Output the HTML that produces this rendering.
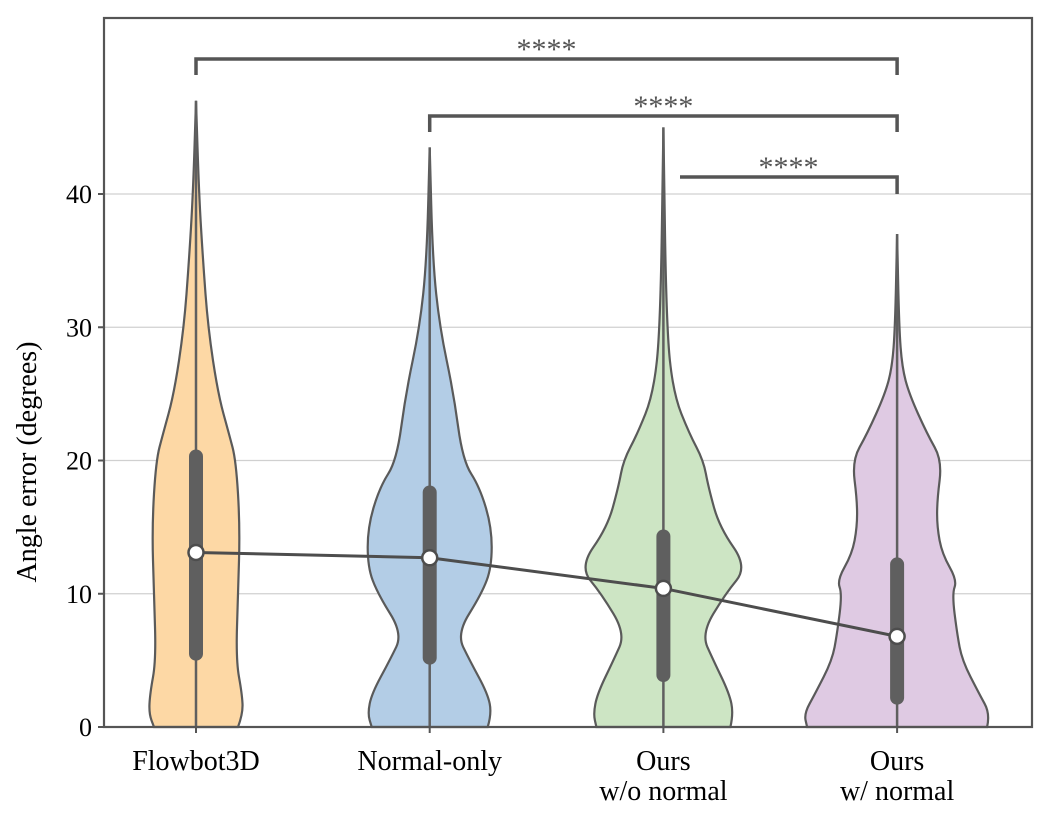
<!DOCTYPE html>
<html><head><meta charset="utf-8"><style>
html,body{margin:0;padding:0;background:#fff;}
svg{display:block;font-family:"Liberation Serif",serif;}
</style></head><body>
<svg id="chart" width="1050" height="832"></svg>
<script>
const categories=["Flowbot3D","Normal-only","Ours\nw/o normal","Ours\nw/ normal"];
const colors=["#fdd8a5","#b3cde6","#cde5c4","#dfcae3"];
const yTicks=[0,10,20,30,40];
// density profiles: [angle value, relative half width]
const profFlow=[[0,42],[1,47],[2.5,46],[5,40],[10,42],[15,44],[20,40],[22,33],[25,22],[30,12],[35,7],[40,3],[47,0]];
const profNorm=[[0,58],[1,62],[2.5,58],[5,40],[7,27],[10,52],[12,62],[15,62],[18,50],[20,33],[25,24],[30,10],[35,3],[43.5,0]];
const profWo=[[0,67],[1,70],[2.5,66],[5,50],[7,38],[10,62],[12,84],[15,56],[18,45],[20,40],[22,26],[25,10],[30,3],[45,0]];
const profW=[[0,90],[1,93],[2.5,82],[5,65],[7,60],[10,55],[11,60],[13,45],[15,40],[17,40],[20,45],[22,30],[25,12],[27,5],[30,2],[37,0]];
const profiles=[profFlow,profNorm,profWo,profW];
const q1=[5.5,5.2,3.9,2.2];
const q3=[20.3,17.6,14.3,12.2];
const medians=[13.1,12.7,10.4,6.8];
const maxs=[47,43.5,45,37];
const sigPairs=[[0,3],[1,3],[2,3]];
const sigLevels=[59,116,177];

const svg=document.getElementById('chart');
const NS='http://www.w3.org/2000/svg';
const L=104,R=1032,T=18,B=727;
const y=v=>B-v*(B-194)/40;
const x=i=>196+i*233.7;
function mk(tag,attrs,parent){const e=document.createElementNS(NS,tag);for(const k in attrs)e.setAttribute(k,attrs[k]);(parent||svg).appendChild(e);return e;}

yTicks.forEach(t=>{
  if(t>0){const g=mk('line',{x1:L,x2:R,y1:y(t),y2:y(t),stroke:'#d0d0d0','stroke-width':1.3});
  
  }
  const tk=mk('line',{x1:L-6,x2:L,y1:y(t),y2:y(t),stroke:'#555','stroke-width':2});
  
  
  const tx=mk('text',{x:L-12,y:y(t)+9,'text-anchor':'end','font-size':26,fill:'#000'});
  tx.textContent=t;
  
  
});

function violinPath(i){
  const p=profiles[i],cx=x(i);
  const right=p.map(d=>[cx+d[1],y(d[0])]);
  const left=p.slice().reverse().map(d=>[cx-d[1],y(d[0])]);
  const pts=right.concat(left);
  let s='M'+pts[0][0]+','+pts[0][1];
  for(let k=1;k<pts.length-1;k++){
    const mx=(pts[k][0]+pts[k+1][0])/2,my=(pts[k][1]+pts[k+1][1])/2;
    s+=' Q'+pts[k][0]+','+pts[k][1]+' '+mx+','+my;
  }
  s+=' L'+pts[pts.length-1][0]+','+pts[pts.length-1][1]+'Z';
  return s;
}
categories.forEach((c,i)=>{
  const v=mk('path',{d:violinPath(i),fill:colors[i],stroke:'#5a5a5a','stroke-width':2.2});
  
  
  const w=mk('line',{x1:x(i),x2:x(i),y1:y(0),y2:y(maxs[i]),stroke:'#5f5f5f','stroke-width':2.5});
  
  
  const b=mk('line',{x1:x(i),x2:x(i),y1:y(q1[i]),y2:y(q3[i]),stroke:'#5f5f5f','stroke-width':14,'stroke-linecap':'round'});
  
  
  const lines=c.split('\n');
  lines.forEach((ln,k)=>{
    const t=mk('text',{x:x(i),y:770+k*30,'text-anchor':'middle','font-size':28,fill:'#000'});
    t.textContent=ln;
    
    
  });
  const tk=mk('line',{x1:x(i),x2:x(i),y1:B,y2:B+6,stroke:'#555','stroke-width':2});
  
  
});
const ml=mk('polyline',{points:medians.map((m,i)=>x(i)+','+y(m)).join(' '),fill:'none',stroke:'#4d4d4d','stroke-width':3});


medians.forEach((m,i)=>{
  const c=mk('circle',{cx:x(i),cy:y(m),r:7.5,fill:'#fff',stroke:'#4d4d4d','stroke-width':2.5});
  
  
});
sigPairs.forEach((p,k)=>{
  const yy=sigLevels[k];
  const xa=k===2?680:x(p[0]);
  const d=k===2?`M${xa},${yy} L${x(p[1])},${yy} L${x(p[1])},${yy+17}`:`M${xa},${yy+16} L${xa},${yy} L${x(p[1])},${yy} L${x(p[1])},${yy+16}`;
  const br=mk('path',{d:d,fill:'none',stroke:'#555','stroke-width':3.5});
  
  
  const mid=k===2?(680+x(3))/2:(x(p[0])+x(p[1]))/2;
  const t=mk('text',{x:mid,y:yy,'text-anchor':'middle','font-size':30,fill:'#555'});
  t.textContent='****';
  
  
});
const fr=mk('rect',{x:L,y:T,width:R-L,height:B-T,fill:'none',stroke:'#555','stroke-width':2.2});


const yl=mk('text',{x:0,y:0,transform:'translate(36,462) rotate(-90)','text-anchor':'middle','font-size':28,fill:'#000'});
yl.textContent='Angle error (degrees)';


</script>
</body></html>
